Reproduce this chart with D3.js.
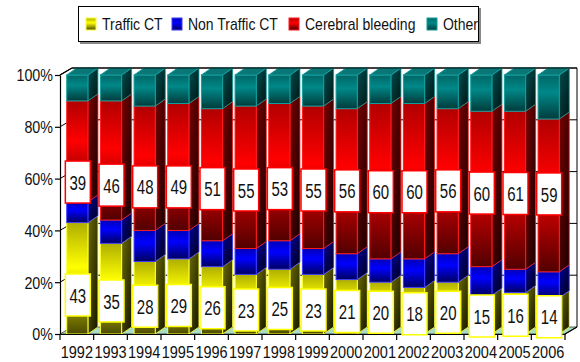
<!DOCTYPE html>
<html>
<head>
<meta charset="utf-8">
<script src="https://cdn.jsdelivr.net/npm/d3@7"></script>
<style>
  html, body { margin: 0; padding: 0; background: #fff; }
  svg { display: block; font-family: "Liberation Sans", Arial, sans-serif; }
</style>
</head>
<body>
<svg id="chart" width="580" height="362"></svg>
<script>
// ---- data ----
const years = ["1992","1993","1994","1995","1996","1997","1998","1999","2000","2001","2002","2003","2004","2005","2006"];
const traffic    = [43,35,28,29,26,23,25,23,21,20,18,20,15,16,14];
const nonTraffic = [ 8, 9,12,11,10,10,11,10,10, 9,11,11,11, 9,10];
const cerebral   = [39,46,48,49,51,55,53,55,56,60,60,56,60,61,59];
const other      = [10,10,12,11,13,12,11,12,13,11,11,13,14,14,17];
const seriesNames = ["Traffic CT","Non Traffic CT","Cerebral bleeding","Other"];
const yTicks = [0,20,40,60,80,100];

// ---- styling ----
const palette = {
  "Traffic CT":        {bright:"#ffff00", dark:"#4a4a00", edge:"#ffff30", side1:"#6a6a00", side2:"#141400"},
  "Non Traffic CT":    {bright:"#0000ff", dark:"#000060", edge:"#3a3aff", side1:"#00009a", side2:"#000018"},
  "Cerebral bleeding": {bright:"#ff0000", dark:"#520000", edge:"#ff1a1a", side1:"#7a0000", side2:"#180000"},
  "Other":             {bright:"#008888", dark:"#003c3c", edge:"#129e9e", side1:"#005050", side2:"#001414"}
};

const svg = d3.select("#chart");
const table = years.map((yr, i) => ({
  year: yr,
  "Traffic CT": traffic[i],
  "Non Traffic CT": nonTraffic[i],
  "Cerebral bleeding": cerebral[i],
  "Other": other[i]
}));
const stacked = d3.stack().keys(seriesNames)(table);

const x = d3.scaleBand().domain(years).range([60, 565]).paddingInner(0).paddingOuter(0);
const y = d3.scaleLinear().domain([0, 100]).range([334, 75]);
const BDX = 10, BDY = -7;   // bar depth
const WDX = 12, WDY = -7;   // wall depth

// gradients
const defs = svg.append("defs");
seriesNames.forEach((s, k) => {
  const p = palette[s];
  const mid = d3.interpolateRgb(p.dark, p.bright)(0.55);
  const gf = defs.append("linearGradient").attr("id", "gf" + k)
    .attr("x1", 0).attr("y1", 0).attr("x2", 0).attr("y2", 1);
  gf.append("stop").attr("offset", "0%").attr("stop-color", mid);
  gf.append("stop").attr("offset", "40%").attr("stop-color", p.bright);
  gf.append("stop").attr("offset", "100%").attr("stop-color", p.dark);
  const gs = defs.append("linearGradient").attr("id", "gs" + k)
    .attr("x1", 0).attr("y1", 0).attr("x2", 1).attr("y2", 1);
  gs.append("stop").attr("offset", "0%").attr("stop-color", p.side1);
  gs.append("stop").attr("offset", "100%").attr("stop-color", p.side2);
});

// ---- walls ----
const walls = svg.append("g");
walls.append("rect")
  .attr("x", 60 + WDX).attr("y", y(100) + WDY)
  .attr("width", 565 - 60).attr("height", y(0) - y(100))
  .attr("fill", "#ffffff");
walls.append("path")
  .attr("d", `M60,${y(0)}L565,${y(0)}L${565 + WDX},${y(0) + WDY}L${60 + WDX},${y(0) + WDY}Z`)
  .attr("fill", "#a8dcc4").attr("stroke", "#000").attr("stroke-width", 0.6);
yTicks.filter(t => t > 0).forEach(t => {
  walls.append("line")
    .attr("x1", 60 + WDX).attr("x2", 565 + WDX)
    .attr("y1", y(t) + WDY).attr("y2", y(t) + WDY)
    .attr("stroke", "#000").attr("stroke-width", 1);
  walls.append("line")
    .attr("x1", 60).attr("x2", 60 + WDX)
    .attr("y1", y(t)).attr("y2", y(t) + WDY)
    .attr("stroke", "#000").attr("stroke-width", 1);
});
walls.append("line")
  .attr("x1", 565 + WDX).attr("x2", 565 + WDX)
  .attr("y1", y(100) + WDY).attr("y2", y(0) + WDY)
  .attr("stroke", "#000").attr("stroke-width", 1);

// ---- bars ----
const bw = x.bandwidth();
const barOff = bw * 0.2, barW = bw * 0.63;
const bars = svg.append("g");
years.forEach((yr, i) => {
  const bx = x(yr) + barOff;
  const g = bars.append("g");
  stacked.forEach((layer, k) => {
    const d = layer[i];
    const yt = y(d[1]), yb = y(d[0]);
    const p = palette[seriesNames[k]];
    g.append("path")
      .attr("d", `M${bx + barW},${yb}L${bx + barW},${yt}L${bx + barW + BDX},${yt + BDY}L${bx + barW + BDX},${yb + BDY}Z`)
      .attr("fill", `url(#gs${k})`).attr("stroke", p.edge).attr("stroke-width", 0.8);
    g.append("rect")
      .attr("x", bx).attr("y", yt).attr("width", barW).attr("height", yb - yt)
      .attr("fill", `url(#gf${k})`).attr("stroke", p.edge).attr("stroke-width", 1);
    if (k === stacked.length - 1) {
      g.append("path")
        .attr("d", `M${bx},${yt}L${bx + BDX},${yt + BDY}L${bx + barW + BDX},${yt + BDY}L${bx + barW},${yt}Z`)
        .attr("fill", "#0b7676").attr("stroke", p.edge).attr("stroke-width", 1);
    }
  });
});

// ---- axes ----
const yAxis = svg.append("g").attr("transform", "translate(60,0)")
  .call(d3.axisLeft(y).tickValues(yTicks).tickFormat(d => d + "%").tickSize(5).tickSizeOuter(0));
yAxis.select(".domain").attr("stroke", "#000").attr("stroke-width", 1.2);
yAxis.selectAll(".tick line").attr("stroke", "#000").attr("stroke-width", 1.2);
yAxis.selectAll(".tick text")
  .attr("x", -7).attr("dy", "0.36em")
  .attr("font-size", 14.3).attr("fill", "#111")
  .attr("font-family", "Liberation Sans, Arial, sans-serif")
  .attr("transform", "scale(1,1.15)");
svg.append("line").attr("x1", 60).attr("y1", y(100)).attr("x2", 60 + WDX).attr("y2", y(100) + WDY)
  .attr("stroke", "#000").attr("stroke-width", 1.2);
svg.append("line").attr("x1", 60 + WDX).attr("y1", y(100) + WDY).attr("x2", 565 + WDX).attr("y2", y(100) + WDY)
  .attr("stroke", "#000").attr("stroke-width", 1.2);

const xAxis = svg.append("g").attr("transform", `translate(0,${y(0)})`)
  .call(d3.axisBottom(x).tickSize(0).tickSizeOuter(0));
xAxis.select(".domain").attr("stroke", "#000").attr("stroke-width", 1.2);
xAxis.selectAll(".tick text")
  .attr("y", 11).attr("font-size", 14.5).attr("fill", "#111")
  .attr("font-family", "Liberation Sans, Arial, sans-serif")
  .attr("transform", "scale(1,1.15)");
svg.append("g").selectAll("line").data(years.concat(["end"])).join("line")
  .attr("x1", (d, i) => 60 + i * bw).attr("x2", (d, i) => 60 + i * bw)
  .attr("y1", y(0)).attr("y2", y(0) + 6)
  .attr("stroke", "#000").attr("stroke-width", 1.2);
svg.append("line").attr("x1", 565).attr("y1", y(0)).attr("x2", 565 + WDX).attr("y2", y(0) + WDY)
  .attr("stroke", "#000").attr("stroke-width", 1.2);

// ---- data labels ----
const labels = svg.append("g");
function addLabel(cx, cy, txt, edge) {
  const g = labels.append("g").attr("transform", `translate(${cx},${cy})`);
  g.append("rect").attr("x", -12.5).attr("y", -21).attr("width", 25).attr("height", 42)
    .attr("fill", "#fff").attr("stroke", edge).attr("stroke-width", 1.5);
  g.append("text").attr("text-anchor", "middle").attr("dy", "0.36em")
    .attr("font-size", 15).attr("fill", "#111")
    .attr("transform", "scale(1,1.4)")
    .text(txt);
}
years.forEach((yr, i) => {
  const cx = x(yr) + barOff + barW / 2 + 0.5;
  const lt = 2.6 + 0.29 * traffic[i];
  addLabel(cx, y(lt), traffic[i], "#ffff00");
  const base = traffic[i] + nonTraffic[i];
  const lc = 50 + 0.17 * base;
  addLabel(cx, y(lc), cerebral[i], "#ff0000");
});

// ---- legend ----
const lg = svg.append("g");
lg.append("rect").attr("x", 80).attr("y", 8).attr("width", 401).attr("height", 36).attr("fill", "#888");
lg.append("rect").attr("x", 78.5).attr("y", 6.5).attr("width", 400).attr("height", 35)
  .attr("fill", "#fff").attr("stroke", "#000").attr("stroke-width", 1);
const legendX = [86, 172, 289, 427];
seriesNames.forEach((s, k) => {
  const p = palette[s];
  lg.append("rect").attr("x", legendX[k]).attr("y", 18).attr("width", 10).attr("height", 12)
    .attr("fill", `url(#gf${k})`).attr("stroke", p.edge).attr("stroke-width", 1);
  lg.append("text").attr("x", legendX[k] + 16).attr("y", 0)
    .attr("transform", "translate(0,30) scale(1,1.2)")
    .attr("font-size", 14).attr("fill", "#111")
    .text(s);
});
</script>
</body>
</html>
